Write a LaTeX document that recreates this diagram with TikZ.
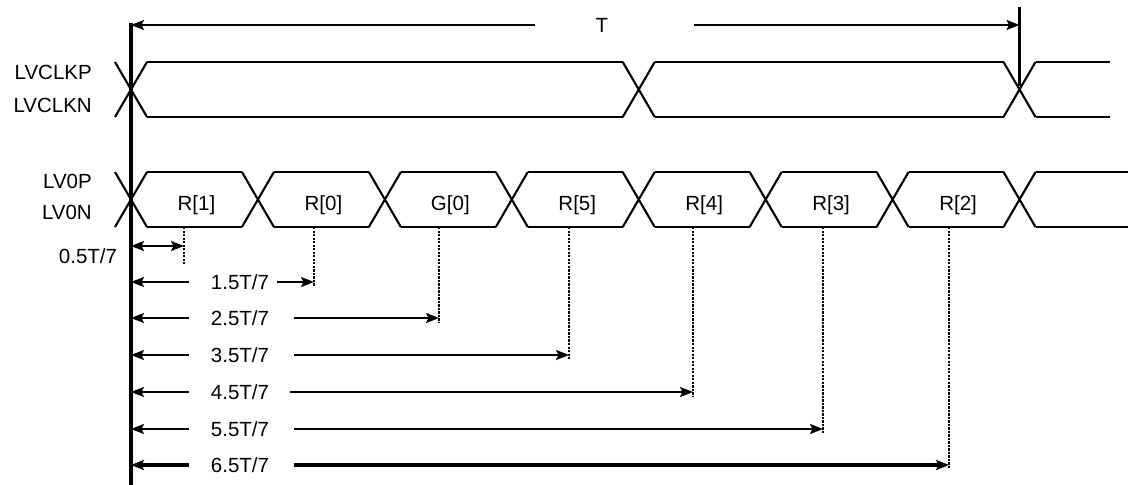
\documentclass[tikz,border=0pt]{standalone}
\usepackage{fontspec}
\setmainfont{Liberation Sans}
\usetikzlibrary{arrows.meta}
\begin{document}
\begin{tikzpicture}[x=0.03cm,y=-0.03cm,line join=round,>={Stealth[length=11pt,width=8.5pt,inset=2pt]}]
	\tikzset{sig/.style={line width=1.8pt},
		meas/.style={line width=1.8pt},
		guide/.style={line width=2pt,dash pattern=on 2pt off 1pt},
		lbl/.style={font=\fontsize{17.5}{20}\selectfont,inner sep=0pt,text height=12.5pt,text depth=0pt}}
	\useasboundingbox (0,0) rectangle (1128,485);
	\def\tb{126.93} \def\h{16} \def\xo{131}
	\def\ct{62} \def\cb{117} \def\dt{172} \def\db{227}
	% signal names
	\node[lbl,anchor=east] (clkp) at (92,72) {LVCLKP};
	\node[lbl,anchor=east] (clkn) at (92,105) {LVCLKN};
	\node[lbl,anchor=east] (dp) at (92,181) {LV0P};
	\node[lbl,anchor=east] (dn) at (92,212) {LV0N};
	% clock: 4 bits high, 3 bits low
	\foreach \c in {0,4,7}{\pgfmathsetmacro\xc{\xo+\c*\tb}
		\draw[sig] (\xc-\h,\ct)--(\xc+\h,\cb) (\xc-\h,\cb)--(\xc+\h,\ct);}
	\foreach \a/\b in {0/4,4/7}{\pgfmathsetmacro\xa{\xo+\a*\tb+\h} \pgfmathsetmacro\xb{\xo+\b*\tb-\h}
		\draw[sig] (\xa,\ct)--(\xb,\ct) (\xa,\cb)--(\xb,\cb);}
	\draw[sig] (\xo+7*\tb+\h,\ct)--(1110,\ct) (\xo+7*\tb+\h,\cb)--(1110,\cb);
	% data bits
	\foreach \k in {0,...,7}{\pgfmathsetmacro\xc{\xo+\k*\tb}
		\draw[sig] (\xc-\h,\dt)--(\xc+\h,\db) (\xc-\h,\db)--(\xc+\h,\dt);}
	\foreach \k/\txt in {0/R[1],1/R[0],2/G[0],3/R[5],4/R[4],5/R[3],6/R[2]}{
		\pgfmathsetmacro\xa{\xo+\k*\tb+\h} \pgfmathsetmacro\xb{\xo+(\k+1)*\tb-\h}
		\draw[sig] (\xa,\dt)--(\xb,\dt) (\xa,\db)--(\xb,\db);
		\node[lbl] (bit\k) at (\xo+\k*\tb+0.5*\tb+2,203) {\txt};}
	\draw[sig] (\xo+7*\tb+\h,\dt)--(1128,\dt) (\xo+7*\tb+\h,\db)--(1128,\db);
	% reference lines
	\coordinate (vt) at (\xo,23); \coordinate (vb) at (\xo,485);
	\draw[line width=2.6pt] (vt)--(vb);
	\coordinate (et) at (1019.5,7); \coordinate (eb) at (1019.5,86);
	\draw[line width=2pt] (et)--(eb);
	% period
	\node[lbl] (T) at (602,25) {T};
	\coordinate (tl) at (\xo,25); \coordinate (tr) at (1019.5,25);
	\draw[meas,->] (T) ++(-67,0) -- (tl);
	\draw[meas,->] (T) ++(92,0) -- (tr);
	% sampling points
	\coordinate (l0) at (\xo,246); \coordinate (r0) at (184,246);
	\draw[meas,<->] (l0)--(r0);
	\node[lbl] (m0) at (88,256) {0.5T/7};
	\draw[guide] (184,\db)--(184,265);
	\foreach \i/\y/\xr/\rg/\lw in {1/282/314/0.24/1.8,2/318/439/0.75/1.8,3/355/569/0.75/1.8,4/392/693/0.63/1.8,5/429/823/0.75/1.8,6/465/949/0.75/2.6}{
		\node[lbl] (m\i) at (240,\y) {\i.5T/7};
		\coordinate (l\i) at (\xo,\y); \coordinate (r\i) at (\xr,\y);
		\draw[line width=\lw pt,->] ([xshift=-0.66cm]m\i.west)--(l\i);
		\draw[line width=\lw pt,->] ([xshift=\rg cm]m\i.east)--(r\i);
		\draw[guide] (\xr,\db)--(\xr,\y+4);}
\end{tikzpicture}
\end{document}
